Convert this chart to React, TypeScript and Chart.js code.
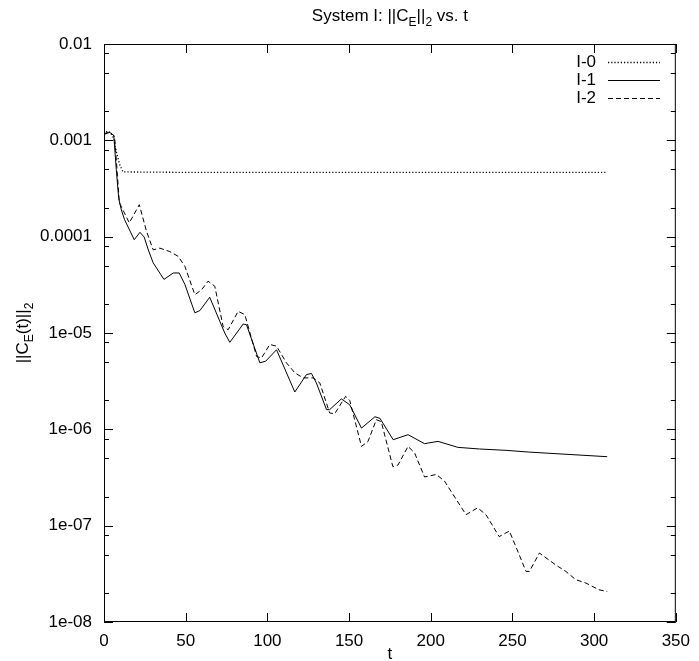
import React, { useEffect, useRef } from "react";
import { Chart, registerables } from "chart.js";

Chart.register(...registerables);

// ---- data ----
const seriesLabels = ["I-0", "I-1", "I-2"];

const i0T = [0, 2, 4, 6, 7.5, 9.6, 11.6, 50, 100, 150, 200, 250, 308];
const i0V = [1.15e-3, 1.25e-3, 1.2e-3, 1.05e-3, 7.7e-4, 5.6e-4, 4.7e-4, 4.65e-4, 4.65e-4, 4.65e-4, 4.65e-4, 4.65e-4, 4.65e-4];

const i1T = [0, 3.5, 6, 7.5, 9, 10.6, 12.6, 18.5, 22, 24.6, 27.1, 30.1, 36.7, 42.4, 46, 49.5, 55.6, 58.7, 64.7, 73.9, 77, 85.2, 87.2, 95.4, 99, 105.6, 116.8, 123.9, 127, 130, 136.2, 138.1, 145.3, 150.4, 157.6, 165.8, 168.9, 177, 186.1, 196.2, 204.4, 216.6, 229.8, 246.1, 260.4, 308];
const i1V = [1.15e-3, 1.21e-3, 1.12e-3, 5.0e-4, 2.5e-4, 1.9e-4, 1.5e-4, 9.3e-5, 1.11e-4, 9.9e-5, 7.3e-5, 5.35e-5, 3.6e-5, 4.2e-5, 4.2e-5, 3.2e-5, 1.62e-5, 1.71e-5, 2.35e-5, 1.0e-5, 8.0e-6, 1.24e-5, 1.22e-5, 4.9e-6, 5.1e-6, 6.7e-6, 2.44e-6, 3.7e-6, 3.8e-6, 3.03e-6, 1.6e-6, 1.6e-6, 2.07e-6, 1.8e-6, 1.03e-6, 1.35e-6, 1.3e-6, 7.8e-7, 8.8e-7, 7.1e-7, 7.5e-7, 6.5e-7, 6.25e-7, 6.05e-7, 5.8e-7, 5.2e-7];

const i2T = [0, 1.6, 4.1, 6.5, 9.4, 15.5, 21.6, 26, 30.1, 34.2, 40.3, 45.4, 49.5, 55.6, 59.7, 63.7, 67.8, 72.9, 76, 82.1, 86.2, 93.4, 96.4, 101.5, 105.6, 111.7, 116.8, 121.9, 128, 132.1, 138.1, 141.2, 147.9, 150.4, 157.6, 161.6, 166.7, 169.7, 176.8, 179.9, 186.1, 190.1, 196.2, 203.4, 208.4, 221.6, 228.7, 233.8, 241.9, 248.1, 251.2, 258.3, 260.4, 266.5, 276.6, 282.7, 288.8, 294.9, 303, 308];
const i2V = [1.15e-3, 1.21e-3, 1.2e-3, 1.1e-3, 2.25e-4, 1.39e-4, 2.15e-4, 1.14e-4, 7.3e-5, 7.6e-5, 7.0e-5, 6.25e-5, 4.93e-5, 2.5e-5, 2.8e-5, 3.45e-5, 3.06e-5, 1.17e-5, 1.08e-5, 1.68e-5, 1.55e-5, 5.7e-6, 5.5e-6, 7.6e-6, 7.3e-6, 4.9e-6, 3.86e-6, 3.42e-6, 3.42e-6, 3.03e-6, 1.48e-6, 1.45e-6, 2.2e-6, 2.0e-6, 6.65e-7, 7.5e-7, 1.26e-6, 1.2e-6, 4.1e-7, 4.25e-7, 6.65e-7, 5.7e-7, 3.2e-7, 3.4e-7, 2.9e-7, 1.3e-7, 1.53e-7, 1.3e-7, 7.7e-8, 8.8e-8, 6.6e-8, 3.35e-8, 3.35e-8, 5.2e-8, 3.9e-8, 3.35e-8, 2.75e-8, 2.54e-8, 2.16e-8, 2.07e-8];

const xTickValues = [0, 50, 100, 150, 200, 250, 300, 350];
const xTickLabels = ["0", "50", "100", "150", "200", "250", "300", "350"];
const yTickValues = [1e-8, 1e-7, 1e-6, 1e-5, 1e-4, 1e-3, 1e-2];
const yTickLabels = ["1e-08", "1e-07", "1e-06", "1e-05", "0.0001", "0.001", "0.01"];
const yMinorMultipliers = [2, 5, 8];

const titleParts = [
  { t: "System I: ||C", sub: false },
  { t: "E", sub: true },
  { t: "||", sub: false },
  { t: "2", sub: true },
  { t: " vs. t", sub: false },
];
const yTitleParts = [
  { t: "||C", sub: false },
  { t: "E", sub: true },
  { t: "(t)||", sub: false },
  { t: "2", sub: true },
];
const xTitle = "t";

const FONT = "'Liberation Sans', Arial, Helvetica, sans-serif";
const BASE = 17;
const SUBSZ = 12;

function zip(ts: number[], vs: number[]) {
  return ts.map((t, i) => ({ x: t, y: vs[i] }));
}

function drawParts(ctx: CanvasRenderingContext2D, parts: { t: string; sub: boolean }[], x: number, y: number) {
  let total = 0;
  const widths = parts.map((p) => {
    ctx.font = `${p.sub ? SUBSZ : BASE}px ${FONT}`;
    const w = ctx.measureText(p.t).width;
    total += w;
    return w;
  });
  let cx = x - total / 2;
  ctx.textAlign = "left";
  ctx.textBaseline = "alphabetic";
  parts.forEach((p, i) => {
    ctx.font = `${p.sub ? SUBSZ : BASE}px ${FONT}`;
    ctx.fillText(p.t, cx, y + (p.sub ? 5 : 0));
    cx += widths[i];
  });
}

const decorPlugin = {
  id: "gnuplotDecor",
  afterDraw(chart: any) {
    const { ctx, chartArea } = chart;
    const { left, right, top, bottom } = chartArea;
    const xs = chart.scales.x;
    const ys = chart.scales.y;
    ctx.save();
    ctx.strokeStyle = "#000";
    ctx.fillStyle = "#000";
    ctx.lineWidth = 1;
    ctx.setLineDash([]);
    // frame
    ctx.strokeRect(left + 0.5, top + 0.5, right - left - 1, bottom - top - 1);
    ctx.beginPath();
    // x ticks
    xTickValues.forEach((v) => {
      const px = Math.round(xs.getPixelForValue(v)) + 0.5;
      ctx.moveTo(px, bottom);
      ctx.lineTo(px, bottom - 9);
      ctx.moveTo(px, top);
      ctx.lineTo(px, top + 9);
    });
    // y ticks
    yTickValues.forEach((v, i) => {
      const py = Math.round(ys.getPixelForValue(v)) + 0.5;
      ctx.moveTo(left, py);
      ctx.lineTo(left + 9, py);
      ctx.moveTo(right, py);
      ctx.lineTo(right - 9, py);
      if (i < yTickValues.length - 1) {
        yMinorMultipliers.forEach((m) => {
          const pm = Math.round(ys.getPixelForValue(v * m)) + 0.5;
          ctx.moveTo(left, pm);
          ctx.lineTo(left + 5, pm);
          ctx.moveTo(right, pm);
          ctx.lineTo(right - 5, pm);
        });
      }
    });
    ctx.stroke();

    // title
    drawParts(ctx, titleParts, (left + right) / 2, 21);
    // x title
    ctx.font = `${BASE}px ${FONT}`;
    ctx.textAlign = "center";
    ctx.textBaseline = "alphabetic";
    ctx.fillText(xTitle, (left + right) / 2, 659);
    // y title
    ctx.save();
    ctx.translate(28, (top + bottom) / 2);
    ctx.rotate(-Math.PI / 2);
    drawParts(ctx, yTitleParts, 0, 0);
    ctx.restore();

    // legend
    chart.data.datasets.forEach((ds: any, i: number) => {
      const ly = 62 + i * 18;
      ctx.font = `${BASE}px ${FONT}`;
      ctx.textAlign = "right";
      ctx.textBaseline = "middle";
      ctx.fillText(ds.label, 596, ly);
      ctx.beginPath();
      ctx.setLineDash(ds.borderDash || []);
      ctx.lineWidth = ds.borderWidth;
      ctx.strokeStyle = ds.borderColor;
      ctx.moveTo(608, ly + 0.5);
      ctx.lineTo(660, ly + 0.5);
      ctx.stroke();
      ctx.setLineDash([]);
    });
    ctx.restore();
  },
};

export default function App() {
  const ref = useRef<HTMLCanvasElement | null>(null);
  useEffect(() => {
    if (!ref.current) return;
    const chart = new Chart(ref.current, {
      type: "line",
      data: {
        datasets: [
          {
            label: seriesLabels[0],
            data: zip(i0T, i0V),
            borderColor: "#000",
            borderWidth: 1.3,
            borderDash: [1.2, 2],
            pointRadius: 0,
            tension: 0,
          },
          {
            label: seriesLabels[1],
            data: zip(i1T, i1V),
            borderColor: "#000",
            borderWidth: 1,
            borderDash: [],
            pointRadius: 0,
            tension: 0,
          },
          {
            label: seriesLabels[2],
            data: zip(i2T, i2V),
            borderColor: "#000",
            borderWidth: 1,
            borderDash: [5, 3],
            pointRadius: 0,
            tension: 0,
          },
        ],
      },
      options: {
        animation: false,
        responsive: true,
        maintainAspectRatio: false,
        devicePixelRatio: 1,
        layout: { padding: { left: 0, right: 22, top: 44, bottom: 0 } },
        plugins: {
          legend: { display: false },
          title: { display: false },
          tooltip: { enabled: false },
        },
        scales: {
          x: {
            type: "linear",
            min: 0,
            max: 350,
            grid: { display: false, drawTicks: false },
            border: { display: false },
            afterBuildTicks: (scale: any) => {
              scale.ticks = xTickValues.map((v) => ({ value: v }));
            },
            afterFit: (scale: any) => {
              scale.height = 39;
            },
            ticks: {
              autoSkip: false,
              maxRotation: 0,
              padding: 9,
              color: "#000",
              font: { family: FONT, size: BASE },
              callback: (_v: any, i: number) => xTickLabels[i],
            },
          },
          y: {
            type: "logarithmic",
            min: 1e-8,
            max: 1e-2,
            grid: { display: false, drawTicks: false },
            border: { display: false },
            afterBuildTicks: (scale: any) => {
              scale.ticks = yTickValues.map((v) => ({ value: v }));
            },
            afterFit: (scale: any) => {
              scale.width = 104;
            },
            ticks: {
              autoSkip: false,
              padding: 12,
              color: "#000",
              font: { family: FONT, size: BASE },
              callback: (_v: any, i: number) => yTickLabels[i],
            },
          },
        },
      },
      plugins: [decorPlugin],
    });
    return () => chart.destroy();
  }, []);
  return (
    <div style={{ position: "absolute", left: 0, top: 0, width: 699, height: 661, background: "#fff" }}>
      <canvas ref={ref} />
    </div>
  );
}
